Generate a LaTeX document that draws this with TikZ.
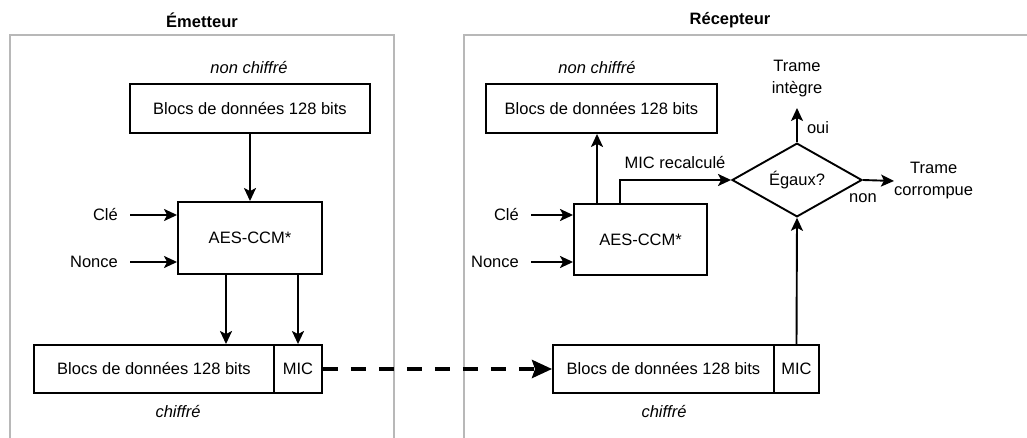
\documentclass[tikz,border=0pt]{standalone}
\usepackage{fontspec}
\setmainfont{Liberation Sans}
\usetikzlibrary{arrows.meta,shapes.geometric}
\begin{document}
\begin{tikzpicture}[x=1pt,y=-1pt,
  every node/.style={font=\fontsize{16.5}{22}\selectfont},
  box/.style={draw,line width=1.9pt,inner sep=0pt,minimum height=48pt},
  arr/.style={line width=1.9pt,-{Stealth[length=13pt,width=12pt,inset=3pt]}},
  panel/.style={draw=black!28,line width=2pt},
  lbl/.style={inner sep=0pt},
  ttl/.style={font=\fontsize{16.5}{22}\selectfont\bfseries}]
\useasboundingbox (0,0) rectangle (1027,438);
\clip (0,0) rectangle (1027,438);
% panels
\draw[panel] (10,450) -- (10,35) -- (394,35) -- (394,450);
\draw[panel] (464,450) -- (464,35) -- (1040,35);
\node[ttl] (temit) at (202,20) {Émetteur};
\node[ttl] (trecep) at (730,20) {Récepteur};
% left side
\node[lbl] (lnc) at (249,68) {\itshape non chiffré};
\node[box,minimum width=240pt,minimum height=49pt] (ltop) at (250,108.5) {Blocs de données 128 bits};
\node[box,minimum width=144pt,minimum height=72pt] (laes) at (250,238) {AES-CCM*};
\node[lbl,anchor=east] (lcle) at (118,215) {Clé};
\node[lbl,anchor=east] (lnon) at (118,262) {Nonce};
\node[box,minimum width=240pt] (ldata) at (154,369) {Blocs de données 128 bits};
\node[box,minimum width=48pt] (lmic) at (298,369) {MIC};
\node[lbl] (lch) at (178,412) {\itshape chiffré};
\draw[arr] (ltop.south) -- (laes.north);
\draw[arr,shorten <=12pt] (lcle.east) -- (lcle.east -| laes.west);
\draw[arr,shorten <=12pt] (lnon.east) -- (lnon.east -| laes.west);
\draw[arr] ([xshift=-24pt]laes.south) -- ([xshift=-24pt]laes.south |- ldata.north);
\draw[arr] (laes.south -| lmic.north) -- (lmic.north);
% right side
\node[lbl] (rnc) at (597,68) {\itshape non chiffré};
\node[box,minimum width=231pt,minimum height=49pt] (rtop) at (601.5,108.5) {Blocs de données 128 bits};
\node[box,minimum width=133pt,minimum height=71pt] (raes) at (640.5,239.5) {AES-CCM*};
\node[lbl,anchor=east] (rcle) at (519,215) {Clé};
\node[lbl,anchor=east] (rnon) at (519,262) {Nonce};
\node[box,minimum width=221pt] (rdata) at (663.5,369) {Blocs de données 128 bits};
\node[box,minimum width=45pt] (rmic) at (796.5,369) {MIC};
\node[lbl] (rch) at (664,412) {\itshape chiffré};
\node[draw,diamond,line width=1.9pt,inner sep=0pt,minimum width=130pt,minimum height=73pt] (diam) at (797,180) {Égaux?};
\node[lbl] (mrec) at (675,163) {MIC recalculé};
\node[lbl,align=center] (tint) at (797,79) {Trame\\intègre};
\coordinate (tintpt) at (797,108);
\node[lbl] (oui) at (818,128) {oui};
\node[lbl,align=center,anchor=west] (tcor) at (894,181) {Trame\\corrompue};
\node[lbl] (non) at (863,198) {non};
\draw[arr,shorten <=12pt] (rcle.east) -- (rcle.east -| raes.west);
\draw[arr,shorten <=12pt] (rnon.east) -- (rnon.east -| raes.west);
\draw[arr] ([xshift=-43.5pt]raes.north) -- ([xshift=-43.5pt]raes.north |- rtop.south);
\draw[arr] ([xshift=-20.5pt]raes.north) |- (diam.west);
\draw[arr] (diam.north) -- (tintpt);
\draw[arr] (diam.east) -- (tcor.west);
\draw[arr] (rmic.north) -- (diam.south);
% dashed transfer
\draw[line width=4pt,dash pattern=on 15pt off 13pt,-{Stealth[length=20pt,width=18pt,inset=3pt]}] (lmic.east) -- (rdata.west);
\end{tikzpicture}
\end{document}
